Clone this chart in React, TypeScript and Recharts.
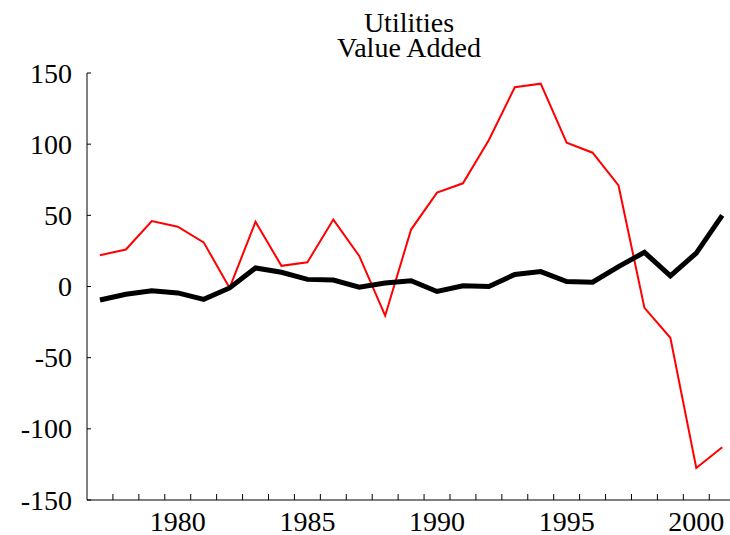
import { Line, LineChart, XAxis, YAxis } from "recharts"

const years = [
  1977, 1978, 1979, 1980, 1981, 1982, 1983, 1984, 1985, 1986, 1987, 1988, 1989,
  1990, 1991, 1992, 1993, 1994, 1995, 1996, 1997, 1998, 1999, 2000, 2001,
]

const redValues = [
  22, 26, 46, 42, 31, -1, 45.5, 14.5, 17, 47, 21.5, -20.5, 40,
  66, 72.5, 103, 140, 142.5, 101, 94, 71, -15, -36, -127.5, -113,
]

const blackValues = [
  -9.5, -5.5, -3, -4.5, -9, -1, 13, 10, 5, 4.5, -0.5, 2.5, 4,
  -3.5, 0.5, 0, 8.5, 10.5, 3.5, 3, 14, 24, 7.5, 23.5, 50,
]

const yTicks = [150, 100, 50, 0, -50, -100, -150]
const xLabels = [1980, 1985, 1990, 1995, 2000]
const xMinorTicks = years.slice(0, -1).map((y) => y + 0.5)

const data = years.map((year, i) => ({
  year,
  red: redValues[i],
  black: blackValues[i],
}))

const font = "'Liberation Serif', 'Times New Roman', serif"

const XTick = ({ x, y, payload }: any) => {
  const v = payload.value
  if (Number.isInteger(v)) {
    return (
      <text x={x} y={y + 31} textAnchor="middle" fontSize={28} fontFamily={font} fill="#000">
        {v}
      </text>
    )
  }
  return <line x1={x} x2={x} y1={y} y2={y - 6} stroke="#000" strokeWidth={1} />
}

const YTick = ({ x, y, payload }: any) => (
  <g>
    <line x1={x} x2={x + 4} y1={y} y2={y} stroke="#000" strokeWidth={1} />
    <text x={x - 15} y={y + 9.5} textAnchor="end" fontSize={28} fontFamily={font} fill="#000">
      {payload.value}
    </text>
  </g>
)

export default function App() {
  return (
    <div style={{ position: "absolute", left: 0, top: 0, width: 730, height: 535, background: "#fff" }}>
      <div
        style={{
          position: "absolute",
          left: 0,
          top: 10,
          width: 818,
          textAlign: "center",
          fontFamily: font,
          fontSize: 28,
          lineHeight: "25px",
          color: "#000",
        }}
      >
        Utilities
        <br />
        Value Added
      </div>
      <LineChart width={730} height={535} data={data} margin={{ top: 73, right: 0, bottom: 0, left: 0 }}>
        <XAxis
          dataKey="year"
          type="number"
          domain={[1976.5, 2001.3]}
          allowDataOverflow
          ticks={[...xMinorTicks, ...xLabels]}
          interval={0}
          tickLine={false}
          tickSize={0}
          tickMargin={0}
          tick={<XTick />}
          height={35}
          axisLine={{ stroke: "#000", strokeWidth: 1 }}
        />
        <YAxis
          type="number"
          domain={[-150, 150]}
          ticks={yTicks}
          interval={0}
          tickLine={false}
          tickSize={0}
          tickMargin={0}
          tick={<YTick />}
          width={87}
          axisLine={{ stroke: "#000", strokeWidth: 1 }}
        />
        <Line
          type="linear"
          dataKey="red"
          stroke="#ff0000"
          strokeWidth={2}
          dot={false}
          isAnimationActive={false}
        />
        <Line
          type="linear"
          dataKey="black"
          stroke="#000"
          strokeWidth={5}
          dot={false}
          isAnimationActive={false}
        />
      </LineChart>
    </div>
  )
}
